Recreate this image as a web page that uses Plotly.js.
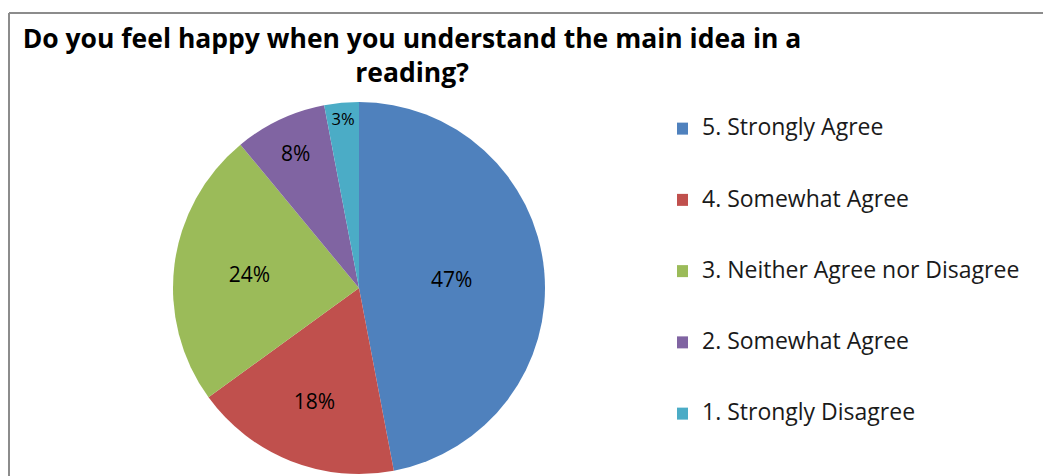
<!DOCTYPE html>
<html>
<head>
<meta charset="utf-8">
<script src="https://cdn.plot.ly/plotly-3.0.1.min.js"></script>
<style>
  html, body { margin: 0; padding: 0; background: #ffffff; }
  #chart { width: 1043px; height: 476px; }
</style>
</head>
<body>
<div id="chart"></div>
<script>
// ---- data ----
const chartTitle = "Do you feel happy when you understand the main idea in a<br>reading?";
const categories = [
  "5. Strongly Agree",
  "4. Somewhat Agree",
  "3. Neither Agree nor Disagree",
  "2. Somewhat Agree",
  "1. Strongly Disagree"
];
const percentValues = [47, 18, 24, 8, 3];
const sliceColors = ["#4F81BD", "#C0504D", "#9BBB59", "#8064A2", "#4BACC6"];

// legend labels padded with blank lines so the entries are spaced like the original
const legendLabels = categories.map(c => " <br><span style=\"font-size:23px\">" + c + "</span><br> ");

const W = 1043, H = 476;
const px = v => v / W;
const py = v => 1 - v / H;
const FONT = "'Open Sans', Lato, sans-serif";

const trace = {
  type: "pie",
  labels: legendLabels,
  values: percentValues,
  sort: false,
  direction: "clockwise",
  rotation: 0,
  marker: { colors: sliceColors, line: { width: 0 } },
  textinfo: "percent",
  textposition: "inside",
  insidetextorientation: "horizontal",
  textfont: { family: FONT, size: 21, color: "#000000" },
  hoverinfo: "label+percent",
  domain: { x: [px(173), px(545)], y: [py(474), py(102)] }
};

const layout = {
  width: W,
  height: H,
  margin: { l: 0, r: 0, t: 0, b: 0, pad: 0 },
  paper_bgcolor: "#ffffff",
  plot_bgcolor: "#ffffff",
  title: {
    text: chartTitle,
    x: px(412),
    xanchor: "center",
    xref: "paper",
    y: py(48),
    yanchor: "top",
    yref: "paper",
    font: { family: FONT, size: 26.5, color: "#000000", weight: "bold" }
  },
  showlegend: true,
  legend: {
    x: px(677),
    xanchor: "left",
    y: py(88),
    yanchor: "top",
    font: { family: FONT, size: 17.5, color: "#1a1a1a" },
    valign: "middle",
    indentation: -15,
    bgcolor: "rgba(0,0,0,0)",
    borderwidth: 0,
    traceorder: "normal"
  },
  shapes: [
    { type: "line", xref: "paper", yref: "paper", x0: px(9), x1: px(9), y0: py(13), y1: py(480),
      line: { color: "#8c8c8c", width: 2 } },
    { type: "line", xref: "paper", yref: "paper", x0: px(9), x1: px(1050), y0: py(13), y1: py(13),
      line: { color: "#8c8c8c", width: 2 } }
  ]
};

Plotly.newPlot("chart", [trace], layout, { displayModeBar: false, staticPlot: true });
</script>
</body>
</html>
